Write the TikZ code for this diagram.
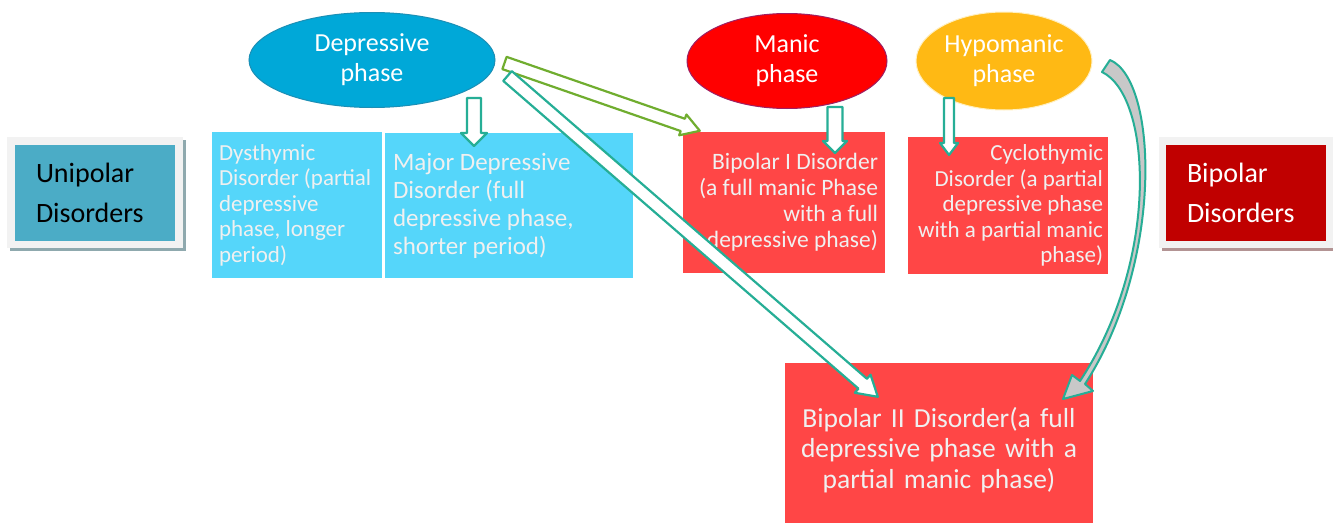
\documentclass[tikz,border=0pt]{standalone}
\usepackage{fontspec}
\setmainfont{Carlito}
\usetikzlibrary{shapes.geometric,calc,shadows}
\definecolor{uniteal}{HTML}{4BACC6}
\definecolor{frameg}{HTML}{F2F2F2}
\definecolor{unishadow}{HTML}{8FA9AE}
\definecolor{bipred}{HTML}{C00000}
\definecolor{bipshadow}{HTML}{B39494}
\definecolor{depblue}{HTML}{00A8D8}
\definecolor{depborder}{HTML}{1C8FB5}
\definecolor{manred}{HTML}{FF0000}
\definecolor{manborder}{HTML}{9E1F63}
\definecolor{hypgold}{HTML}{FFB914}
\definecolor{hypborder}{HTML}{FFF0C0}
\definecolor{cyanbox}{HTML}{55D6FA}
\definecolor{redbox}{HTML}{FF4646}
\definecolor{lighttext}{HTML}{F0F0F0}
\definecolor{arrteal}{HTML}{26AE96}
\definecolor{arrgreen}{HTML}{70AD2F}
\definecolor{arrgray}{HTML}{C8C8C8}
\newcommand{\blockarrow}[6]{%
  \coordinate (bah) at ($(#3)!#6!(#2)$);
  \path[#1] ($(#2)!#4!90:(#3)$) -- ($(bah)!#4!90:(#3)$) -- ($(bah)!#5!90:(#3)$) -- (#3)
    -- ($(bah)!#5!-90:(#3)$) -- ($(bah)!#4!-90:(#3)$) -- ($(#2)!#4!-90:(#3)$) -- cycle;}
\tikzset{
  phase/.style={ellipse, inner sep=0pt, text=white, align=center, line width=1pt,
    font=\fontsize{26}{30}\selectfont},
  disbox/.style={rectangle, inner ysep=0pt, text=lighttext},
  frame/.style={rectangle, fill=frameg, inner sep=0pt},
  tag/.style={rectangle, inner ysep=0pt, inner xsep=20pt, text width=118pt, align=flush left,
    minimum width=160pt, minimum height=96pt, font=\fontsize{28}{40}\selectfont},
  blockT/.style={draw=arrteal, fill=white, line width=2.2pt, line join=round},
  blockG/.style={draw=arrgreen, fill=white, line width=2.2pt, line join=round},
  curvedT/.style={draw=arrteal, fill=arrgray, line width=2pt, line join=round}
}
\begin{document}
\begin{tikzpicture}[x=1pt,y=-1pt]
\clip (0,0) rectangle (1333,522);
\fill[white] (0,0) rectangle (1333,522);

% side tags
\node[frame, minimum width=176pt, minimum height=111pt,
  drop shadow={shadow xshift=3pt, shadow yshift=-3pt, opacity=1, fill=unishadow}] (uf) at (95,192.5) {};
\node[tag, fill=uniteal, text=black] (uni) at (95,193) {Unipolar\\Disorders};
\node[frame, minimum width=176pt, minimum height=111pt,
  drop shadow={shadow xshift=3pt, shadow yshift=-3pt, opacity=1, fill=bipshadow}] (bf) at (1247,192.5) {};
\node[tag, fill=bipred, text=white] (bip) at (1246,193) {Bipolar\\Disorders};

% phases
\node[phase, fill=depblue, draw=depborder, minimum width=246pt, minimum height=95pt] (dep) at (372,60) {Depressive\\phase};
\node[phase, fill=manred, draw=manborder, minimum width=200pt, minimum height=95pt] (man) at (787,61) {Manic\\phase};
\node[phase, fill=hypgold, draw=hypborder, minimum width=176pt, minimum height=98pt] (hyp) at (1004,61) {Hypomanic\\phase};

% disorder boxes
\node[disbox, fill=cyanbox, minimum width=170pt, minimum height=146pt, text width=156pt, inner xsep=7pt,
  align=flush left, font=\fontsize{23}{25.5}\selectfont] (dys) at (297,205)
  {Dysthymic\\Disorder (partial\\depressive\\phase, longer\\period)};
\node[disbox, fill=cyanbox, minimum width=248pt, minimum height=145pt, text width=232pt, inner xsep=8pt,
  align=flush left, font=\fontsize{25}{28}\selectfont] (mdd) at (509,205.5)
  {Major Depressive\\Disorder (full\\depressive phase,\\shorter period)};
\node[disbox, fill=redbox, minimum width=202pt, minimum height=141pt, text width=188pt, inner xsep=7pt,
  align=flush right, font=\fontsize{23.5}{26}\selectfont] (bp1) at (784,202.5)
  {Bipolar I Disorder\\(a full manic Phase\\with a full\\depressive phase)};
\node[disbox, fill=redbox, minimum width=200pt, minimum height=137pt, text width=190pt, inner xsep=5pt,
  align=flush right, font=\fontsize{23}{25.6}\selectfont] (cyc) at (1008,205.5)
  {Cyclothymic\\Disorder (a partial\\depressive phase\\with a partial manic\\phase)};
\node[disbox, fill=redbox, minimum width=308pt, minimum height=174pt, text width=300pt, inner xsep=4pt,
  align=center, font=\fontsize{27.5}{30.5}\selectfont] (bp2) at (939,450)
  {Bipolar II Disorder(a full\\depressive phase with a\\partial manic phase)};

% connector end points
\coordinate (depA) at ($(dep.east)+(9,3)$);
\coordinate (depB) at ($(dep.east)+(12,16)$);
\coordinate (depC) at (474,98);
\coordinate (mddN) at (474,146);
\coordinate (manS) at (835,107);
\coordinate (bp1N) at (835,153);
\coordinate (bp1W) at ($(bp1.north west)+(17,-1)$);
\coordinate (hypS) at (949,98);
\coordinate (cycN) at (949,155);
\coordinate (bp2A) at ($(bp2.north west)+(93,34)$);

% block arrows
\blockarrow{blockT}{depC}{mddN}{7pt}{13pt}{13pt}
\blockarrow{blockT}{manS}{bp1N}{7.5pt}{12pt}{12pt}
\blockarrow{blockT}{hypS}{cycN}{5pt}{9pt}{12pt}
\blockarrow{blockG}{depA}{bp1W}{6.5pt}{11pt}{18pt}
\blockarrow{blockT}{depB}{bp2A}{6.5pt}{12pt}{20pt}

% curved arrow hypomanic -> bipolar II
\coordinate (hypE) at (1110,60);
\coordinate (bp2B) at (1063,399);
\path[curvedT] (hypE) .. controls (1158,80) and (1164,262) .. (1085,384)
  -- (1093,391) -- (bp2B) -- (1072,375) -- (1080,381)
  .. controls (1160,260) and (1152,96) .. (1102,72) -- cycle;
\end{tikzpicture}
\end{document}
